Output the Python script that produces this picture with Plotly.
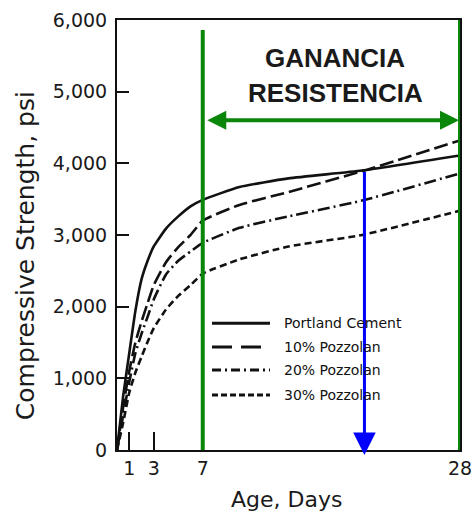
import plotly.graph_objects as go

days = [0, 0.5, 1, 1.5, 2, 2.5, 3, 4, 5, 6, 7, 10, 14, 20, 28]
portland = [0, 750, 1350, 1940, 2380, 2640, 2840, 3090, 3260, 3400, 3490, 3670, 3790, 3900, 4110]
pozz10 = [0, 600, 1100, 1500, 1790, 2050, 2300, 2620, 2830, 3000, 3200, 3420, 3600, 3890, 4320]
pozz20 = [0, 480, 950, 1350, 1620, 1860, 2100, 2450, 2640, 2770, 2890, 3100, 3260, 3480, 3860]
pozz30 = [0, 380, 800, 1080, 1300, 1510, 1700, 1960, 2150, 2300, 2460, 2660, 2840, 3000, 3340]

series_names = ["Portland Cement", "10% Pozzolan", "20% Pozzolan", "30% Pozzolan"]
series_vals = [portland, pozz10, pozz20, pozz30]
dashes = ["solid", "14px,5px", "12px,4px,2px,4px", "7px,4px"]
legend_dashes = ["solid", "20px,9px", "9px,4px,2px,4px", "6px,3px"]

x_ticks = [1, 3, 7, 28]
y_ticks = [0, 1000, 2000, 3000, 4000, 5000, 6000]
y_tick_text = ["0", "1,000", "2,000", "3,000", "4,000", "5,000", "6,000"]

gain_start, gain_end = 7, 28
gain_arrow_y = 4600
cross_day, cross_val = 20.2, 3900

fig = go.Figure()
for name, vals, d in zip(series_names, series_vals, dashes):
    fig.add_trace(go.Scatter(x=days, y=vals, mode="lines", name=name,
                             line=dict(color="#111111", width=2.6, dash=d, shape="spline", smoothing=0.5),
                             showlegend=False))

GREEN = "#0a870a"
shapes = [
    dict(type="line", xref="x", yref="y", x0=gain_start, x1=gain_start, y0=0, y1=5860,
         line=dict(color=GREEN, width=4)),
    dict(type="line", xref="x", yref="y", x0=gain_end, x1=gain_end, y0=0, y1=6000,
         line=dict(color=GREEN, width=4)),
]
annotations = [
    dict(x=gain_end, y=gain_arrow_y, ax=gain_start, ay=gain_arrow_y, xref="x", yref="y",
         axref="x", ayref="y", text="", showarrow=True, arrowhead=2, startarrowhead=2,
         arrowside="end+start", arrowwidth=4, arrowsize=0.95, startarrowsize=0.95,
         arrowcolor=GREEN, standoff=1, startstandoff=3),
    dict(x=cross_day, y=-70, ax=cross_day, ay=cross_val, xref="x", yref="y",
         axref="x", ayref="y", text="", showarrow=True, arrowhead=2,
         arrowwidth=3, arrowsize=1.5, arrowcolor="#0000ff"),
    dict(x=17.8, y=5470, xref="x", yref="y", text="<b>GANANCIA</b>", showarrow=False,
         font=dict(family="Liberation Sans, Arial", size=26, color="#1a1a1a")),
    dict(x=17.8, y=4980, xref="x", yref="y", text="<b>RESISTENCIA</b>", showarrow=False,
         font=dict(family="Liberation Sans, Arial", size=26, color="#1a1a1a")),
    dict(x=-0.268, y=0.451, xref="paper", yref="paper", text="Compressive Strength, psi",
         xanchor="center", yanchor="middle",
         textangle=-90, showarrow=False, font=dict(family="DejaVu Sans", size=25, color="#1a1a1a")),
    dict(x=0.4956, y=-0.116, xref="paper", yref="paper", text="Age, Days",
         xanchor="center", yanchor="middle",
         showarrow=False, font=dict(family="DejaVu Sans", size=22, color="#1a1a1a")),
]

leg_y = [0.295, 0.2395, 0.186, 0.128]
for name, ld, ly in zip(series_names, legend_dashes, leg_y):
    shapes.append(dict(type="line", xref="paper", yref="paper", x0=0.277, x1=0.446, y0=ly, y1=ly,
                       line=dict(color="#111111", width=3, dash=ld)))
    annotations.append(dict(x=0.481, y=ly, xref="paper", yref="paper", text=name, xanchor="left",
                            yanchor="middle",
                            showarrow=False, font=dict(family="DejaVu Sans", size=14, color="#111111")))

fig.update_layout(
    width=471, height=515,
    margin=dict(l=117, r=11, t=20, b=65, autoexpand=False),
    paper_bgcolor="white", plot_bgcolor="white",
    shapes=shapes, annotations=annotations,
    showlegend=False,
)
fig.update_xaxes(range=[0, 28], tickvals=x_ticks, ticks="inside", ticklen=18, tickwidth=2,
                 tickcolor="#111111", showgrid=False, zeroline=False, showline=True,
                 linecolor="#111111", linewidth=2, mirror=True, automargin=False,
                 ticklabeloverflow="allow",
                 tickfont=dict(family="DejaVu Sans", size=19, color="#1a1a1a"))
fig.update_yaxes(range=[0, 6000], tickvals=y_ticks, ticktext=y_tick_text, ticks="inside",
                 ticklen=12, tickwidth=2, tickcolor="#111111", showgrid=False, zeroline=False,
                 showline=True, linecolor="#111111", linewidth=2, mirror=True, automargin=False,
                 ticklabelstandoff=4, ticklabeloverflow="allow",
                 tickfont=dict(family="DejaVu Sans", size=19, color="#1a1a1a"))

fig.write_html("out.html")
